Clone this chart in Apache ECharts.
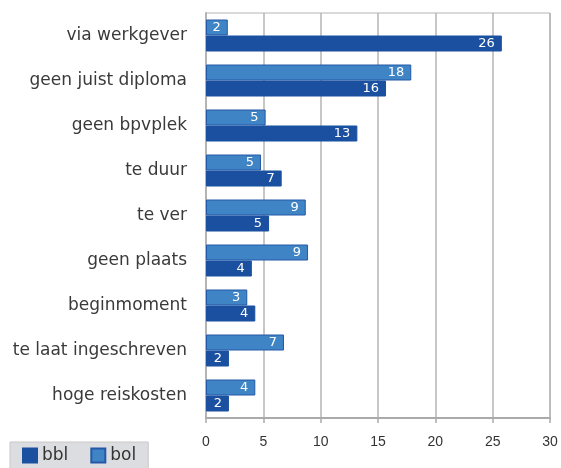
<!DOCTYPE html>
<html>
<head>
<meta charset="utf-8">
<script src="https://cdn.jsdelivr.net/npm/echarts@6/dist/echarts.min.js"></script>
<style>
  html, body { margin: 0; padding: 0; background: #fff; }
  #chart { width: 561px; height: 468px; }
</style>
</head>
<body>
<div id="chart"></div>
<script>
var categories = ['via werkgever', 'geen juist diploma', 'geen bpvplek', 'te duur', 'te ver',
                  'geen plaats', 'beginmoment', 'te laat ingeschreven', 'hoge reiskosten'];
// bar lengths
var bolValues = [1.9, 17.9, 5.2, 4.8, 8.7, 8.9, 3.6, 6.8, 4.3];
var bblValues = [25.8, 15.7, 13.2, 6.6, 5.5, 4.0, 4.3, 2.0, 2.0];
// numbers printed on the bars
var bolLabels = [2, 18, 5, 5, 9, 9, 3, 7, 4];
var bblLabels = [26, 16, 13, 7, 5, 4, 4, 2, 2];
var xTicks = [0, 5, 10, 15, 20, 25, 30];

$chart();
function $chart() {
    var myChart = echarts.init(document.getElementById('chart'));
    var font = 'DejaVu Sans, sans-serif';

    function barLabel(labels) {
        return {
            show: true,
            position: 'insideRight',
            distance: 7,
            color: '#fff',
            fontFamily: font,
            fontSize: 13,
            formatter: function (p) { return labels[p.dataIndex]; }
        };
    }

    var option = {
        animation: false,
        grid: { left: 206, right: 11, top: 13, bottom: 50, containLabel: false, show: true,
                borderColor: '#b4b4b4', borderWidth: 1 },
        legend: {
            data: ['bbl', 'bol'],
            left: 10,
            bottom: -2,
            icon: 'rect',
            itemWidth: 14,
            itemHeight: 14,
            itemGap: 22,
            padding: [5, 12, 6, 12],
            backgroundColor: '#dcdde0',
            borderColor: '#c8c8c8',
            borderWidth: 1,
            textStyle: { fontFamily: font, fontSize: 17, color: '#333' }
        },
        xAxis: {
            type: 'value',
            min: xTicks[0],
            max: xTicks[xTicks.length - 1],
            interval: 5,
            axisLine: { show: true, lineStyle: { color: '#aaa', width: 2 } },
            axisTick: { show: true, length: 5, lineStyle: { color: '#aaa', width: 1.5 } },
            axisLabel: { color: '#333', fontFamily: 'Liberation Sans, Arial, sans-serif', fontSize: 14, margin: 17 },
            splitLine: { lineStyle: { color: '#b4b4b4', width: 1.5 } }
        },
        yAxis: {
            type: 'category',
            data: categories,
            inverse: true,
            axisLine: { show: true, lineStyle: { color: '#b4b4b4', width: 2 } },
            axisTick: { show: false },
            axisLabel: { color: '#3a3a3a', fontFamily: font, fontSize: 17, margin: 19 }
        },
        series: [
            {
                name: 'bol',
                type: 'bar',
                data: bolValues,
                barWidth: 16,
                barGap: '0%',
                itemStyle: { color: '#3f84c5', borderColor: '#2459a8', borderWidth: 1 },
                label: barLabel(bolLabels)
            },
            {
                name: 'bbl',
                type: 'bar',
                data: bblValues,
                barWidth: 16,
                barGap: '0%',
                itemStyle: { color: '#1b50a0', borderColor: '#1b50a0', borderWidth: 1 },
                label: barLabel(bblLabels)
            }
        ]
    };

    option && myChart.setOption(option);
    window.addEventListener('resize', function () {
        myChart.resize();
    });
}
</script>
</body>
</html>
